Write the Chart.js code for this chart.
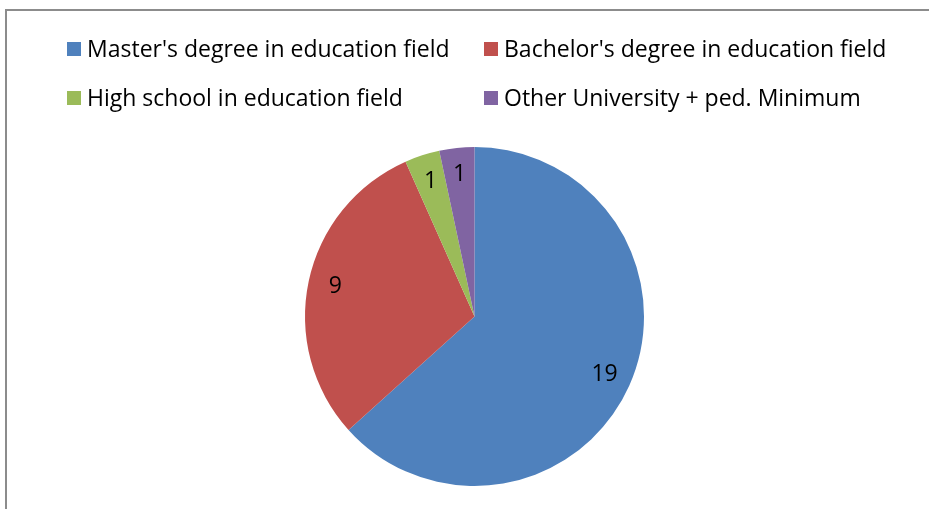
<!DOCTYPE html>
<html>
<head>
<meta charset="utf-8">
<script src="https://cdn.jsdelivr.net/npm/chart.js@4.4.1/dist/chart.umd.min.js"></script>
<style>
    html, body {
        margin: 0;
        padding: 0;
        background: #ffffff;
    }
    #wrap {
        position: relative;
        width: 929px;
        height: 509px;
        overflow: hidden;
    }
    #frame {
        position: absolute;
        left: 5px;
        top: 9px;
        width: 1000px;
        height: 600px;
        border: 2px solid #8c8c8c;
        box-sizing: border-box;
    }
    #pieChart {
        position: absolute;
        left: 0;
        top: 0;
    }
    .legend-item {
        position: absolute;
        font-family: "Open Sans", Lato, sans-serif;
        font-size: 23px;
        color: #000;
        white-space: nowrap;
        line-height: 28px;
    }
    .legend-box {
        position: absolute;
        width: 14px;
        height: 14px;
    }
</style>
</head>
<body>
<div id="wrap">
    <div id="frame"></div>
    <canvas id="pieChart" width="929" height="509"></canvas>
    <div id="legend"></div>
</div>
<script>
// --- DATA ---
const categories = [
    "Master's degree in education field",
    "Bachelor's degree in education field",
    "High school in education field",
    "Other University + ped. Minimum"
];
const counts = [19, 9, 1, 1];
const colors = ["#4F81BD", "#C0504D", "#9BBB59", "#8064A2"];

// --- LEGEND (two aligned columns, like the office chart) ---
function buildLegend() {
    const legend = document.getElementById("legend");
    const colX = [67, 484];
    const rowY = [49, 98];

    categories.forEach((name, i) => {
        const col = i % 2;
        const row = Math.floor(i / 2);

        const box = document.createElement("div");
        box.className = "legend-box";
        box.style.background = colors[i];
        box.style.left = colX[col] + "px";
        box.style.top = (rowY[row] - 7) + "px";
        legend.appendChild(box);

        const txt = document.createElement("div");
        txt.className = "legend-item";
        txt.textContent = name;
        txt.style.left = (colX[col] + 20) + "px";
        txt.style.top = (rowY[row] - 15) + "px";
        legend.appendChild(txt);
    });
}

// value labels inside each slice
const sliceLabels = {
    id: "sliceLabels",
    afterDatasetsDraw(chart) {
        const ctx = chart.ctx;
        const meta = chart.getDatasetMeta(0);
        ctx.save();
        ctx.fillStyle = "#000";
        ctx.font = "23px 'Open Sans', Lato, sans-serif";
        ctx.textAlign = "center";
        ctx.textBaseline = "middle";
        meta.data.forEach((arc, i) => {
            const p = arc.getProps(["x", "y", "startAngle", "endAngle", "outerRadius"], true);
            const mid = (p.startAngle + p.endAngle) / 2;
            const r = p.outerRadius * 0.84;
            ctx.fillText(String(counts[i]), p.x + Math.cos(mid) * r, p.y + Math.sin(mid) * r);
        });
        ctx.restore();
    }
};

// --- CHART ---
function createChart() {
    const ctx = document.getElementById("pieChart");

    new Chart(ctx, {
        type: "pie",
        data: {
            labels: categories,
            datasets: [{
                data: counts,
                backgroundColor: colors,
                borderWidth: 0
            }]
        },
        options: {
            responsive: false,
            animation: false,
            layout: {
                padding: { top: 147, bottom: 23, left: 20, right: 0 }
            },
            plugins: {
                legend: { display: false },
                tooltip: { enabled: false }
            }
        },
        plugins: [sliceLabels]
    });
}

buildLegend();
createChart();
</script>
</body>
</html>
